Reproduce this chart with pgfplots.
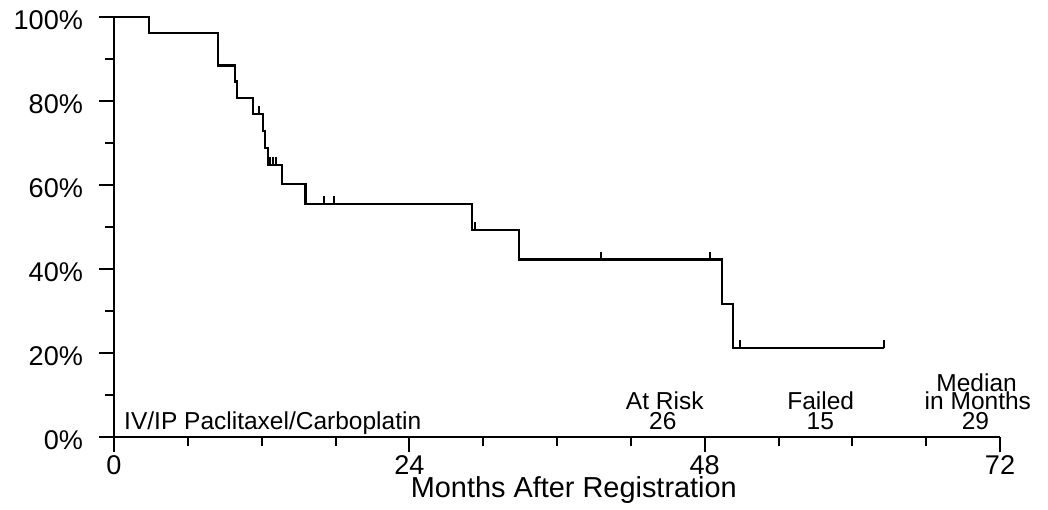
\documentclass[border=0pt]{standalone}
\usepackage{fontspec}
\setmainfont{Liberation Sans}
\usepackage{pgfplots}
\pgfplotsset{compat=1.18}

% censor mark: short vertical stroke rising from the curve
\pgfdeclareplotmark{cens}{%
  \pgfpathmoveto{\pgfpointorigin}%
  \pgfpathlineto{\pgfpoint{0pt}{4bp}}%
  \pgfusepathqstroke}

\begin{document}
\begin{tikzpicture}
\path[use as bounding box] (-57bp,-36.5bp) rectangle (467bp,218.5bp);
\begin{axis}[
  scale only axis, width=443bp, height=210bp,
  xmin=0, xmax=72, ymin=0, ymax=100,
  axis x line=bottom, axis y line=left,
  axis line style={-, line width=1.1bp},
  tick align=outside, tick style={black, line width=1bp},
  major tick length=7.5bp, minor tick length=4.5bp,
  xtick={0,24,48,72}, minor xtick={6,12,18,30,36,42,54,60,66},
  ytick={0,20,40,60,80,100}, minor ytick={10,30,50,70,90},
  yticklabels={0\%,20\%,40\%,60\%,80\%,100\%},
  /pgf/number format/assume math mode=true,
  ticklabel style={font=\fontsize{13.6}{15}\selectfont},
  yticklabel style={xshift=-4.5bp, yshift=-1.5bp},
  xticklabel style={yshift=1.5bp},
  xlabel={Months After Registration},
  xlabel style={font=\fontsize{14.5}{16}\selectfont,
    at={(rel axis cs:0.519,0)}, anchor=base, yshift=-30bp},
  clip=false,
]
\addplot[const plot, black, line width=1.1bp] coordinates {
  (0,100) (2.87,96.15) (8.47,88.46) (9.83,84.62) (10.0,80.77)
  (11.3,76.92) (12.13,72.87) (12.3,68.82) (12.5,64.78) (13.67,60.15)
  (15.57,55.52) (29.1,49.3) (32.9,42.26) (49.4,31.7) (50.3,21.13)
  (62.55,21.13) };
\addplot[only marks, mark=cens, black, line width=1bp] coordinates {
  (11.8,76.92) (12.7,64.78) (12.9,64.78) (13.15,64.78)
  (17.06,55.52) (17.87,55.52) (29.3,49.3) (39.6,42.26) (48.4,42.26)
  (50.85,21.13) (62.55,21.13) };
\begin{scope}[every node/.style={font=\fontsize{12.3}{14}\selectfont, inner sep=0pt, anchor=base}]
\node[anchor=base west] at (axis cs:0.8,1.9) {IV/IP Paclitaxel/Carboplatin};
\node at (axis cs:44.76,6.43) {At Risk};
\node at (axis cs:44.6,1.9) {26};
\node at (axis cs:57.43,6.43) {Failed};
\node at (axis cs:57.4,1.9) {15};
\node at (axis cs:70.1,10.8) {Median};
\node at (axis cs:70.2,6.43) {in Months};
\node at (axis cs:70.0,1.9) {29};
\end{scope}
\end{axis}
\end{tikzpicture}
\end{document}
